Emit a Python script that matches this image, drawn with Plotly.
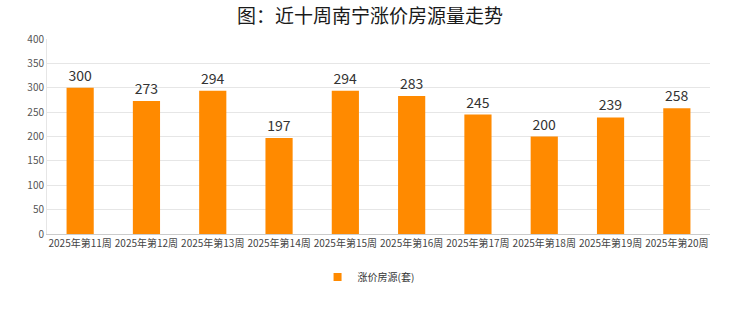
import plotly.graph_objects as go

categories = ["2025年第11周", "2025年第12周", "2025年第13周", "2025年第14周", "2025年第15周",
              "2025年第16周", "2025年第17周", "2025年第18周", "2025年第19周", "2025年第20周"]
values = [300, 273, 294, 197, 294, 283, 245, 200, 239, 258]
series_name = "涨价房源(套)"
title_text = "图：近十周南宁涨价房源量走势"

fig = go.Figure()
fig.add_trace(go.Bar(
    x=categories, y=values, name=series_name, showlegend=False,
    marker=dict(color="#FF8A00", line=dict(width=0)),
    width=0.41,
    text=[str(v) for v in values], textposition="outside",
    textfont=dict(size=14, color="#333333", family="Noto Sans CJK SC"),
    cliponaxis=False,
))
# legend entry with a small square marker
fig.add_trace(go.Scatter(
    x=[None], y=[None], mode="markers", name=series_name,
    marker=dict(symbol="square", size=8, color="#FF8A00"),
    showlegend=True,
))

fig.update_layout(
    width=740, height=312,
    margin=dict(l=47, r=30, t=39, b=78),
    paper_bgcolor="white", plot_bgcolor="white",
    title=dict(text=title_text, x=0.5, xanchor="center", y=0.948, yanchor="middle",
               font=dict(size=19, color="#1a1a1a", family="Noto Sans CJK SC")),
    showlegend=True,
    legend=dict(orientation="h", x=0.485, xanchor="center", y=-0.22, yanchor="middle",
                font=dict(size=10, color="#333333", family="Noto Sans CJK SC"),
                itemwidth=30),
    font=dict(family="Noto Sans CJK SC"),
)
fig.update_xaxes(
    showline=True, linecolor="#CCCCCC", linewidth=1,
    tickfont=dict(size=10, color="#444444"), ticks="", tickangle=0,
)
fig.update_yaxes(
    range=[0, 400], dtick=50, showgrid=True, gridcolor="#E6E6E6",
    zeroline=False, showline=True, linecolor="#E6E6E6",
    tickfont=dict(size=10, color="#555555"),
)
fig.write_html("out.html")
